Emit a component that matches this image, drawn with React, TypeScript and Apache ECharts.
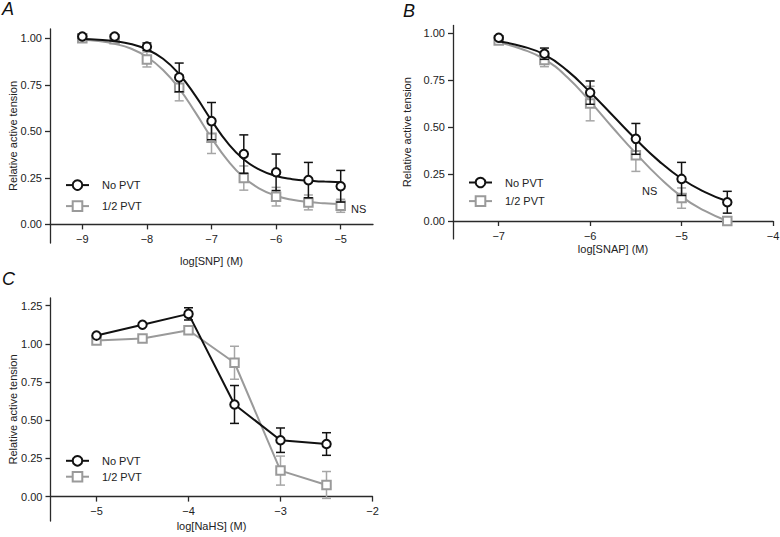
import React, { useEffect, useRef } from 'react';
import * as echarts from 'echarts';

// ---------- Panel A: SNP ----------
const snpX = [-9, -8.5, -8, -7.5, -7, -6.5, -6, -5.5, -5];
const snpNoPvt = [1.01, 1.01, 0.955, 0.79, 0.555, 0.378, 0.28, 0.238, 0.205];
const snpNoPvtErr = [0.01, 0.01, 0.02, 0.077, 0.1, 0.103, 0.098, 0.095, 0.085];
const snpHalfPvt = [1.0, 0.995, 0.886, 0.734, 0.466, 0.249, 0.149, 0.118, 0.1];
const snpHalfPvtErr = [0.01, 0.01, 0.04, 0.07, 0.085, 0.065, 0.05, 0.04, 0.035];
const snpFitX = [-9, -8.75, -8.5, -8.25, -8, -7.75, -7.5, -7.25, -7, -6.75, -6.5, -6.25, -6, -5.75, -5.5, -5.25, -5];
const snpFitNoPvt = [0.996, 0.992, 0.984, 0.969, 0.94, 0.89, 0.807, 0.692, 0.559, 0.438, 0.349, 0.293, 0.26, 0.243, 0.234, 0.23, 0.227];
const snpFitHalfPvt = [0.992, 0.985, 0.97, 0.945, 0.9, 0.83, 0.73, 0.602, 0.465, 0.344, 0.252, 0.191, 0.154, 0.132, 0.12, 0.113, 0.109];

// ---------- Panel B: SNAP ----------
const snapX = [-7, -6.5, -6, -5.5, -5, -4.5];
const snapNoPvt = [0.975, 0.89, 0.683, 0.437, 0.224, 0.1];
const snapNoPvtErr = [0.01, 0.03, 0.062, 0.082, 0.088, 0.058];
const snapHalfPvt = [0.96, 0.856, 0.625, 0.35, 0.122, 0.0];
const snapHalfPvtErr = [0.01, 0.035, 0.092, 0.086, 0.054, 0.01];
const snapFitX = [-7, -6.75, -6.5, -6.25, -6, -5.75, -5.5, -5.25, -5, -4.75, -4.5];
const snapFitNoPvt = [0.955, 0.93, 0.885, 0.8, 0.685, 0.56, 0.435, 0.32, 0.225, 0.155, 0.105];
const snapFitHalfPvt = [0.95, 0.915, 0.86, 0.765, 0.635, 0.495, 0.36, 0.235, 0.13, 0.055, 0.0];

// ---------- Panel C: NaHS ----------
const nahsX = [-5, -4.5, -4, -3.5, -3, -2.5];
const nahsNoPvt = [1.054, 1.125, 1.196, 0.603, 0.369, 0.344];
const nahsNoPvtErr = [0.01, 0.01, 0.04, 0.124, 0.08, 0.074];
const nahsHalfPvt = [1.022, 1.035, 1.089, 0.876, 0.17, 0.076];
const nahsHalfPvtErr = [0.01, 0.01, 0.01, 0.108, 0.095, 0.088];

// ---------- Ticks ----------
const snpXTicks = [-9, -8, -7, -6, -5];
const snapXTicks = [-7, -6, -5, -4];
const nahsXTicks = [-5, -4, -3, -2];
const yTicksAB = [0, 0.25, 0.5, 0.75, 1];
const yTicksC = [0, 0.25, 0.5, 0.75, 1, 1.25];

const SERIES_NO = 'No PVT';
const SERIES_HALF = '1/2 PVT';

const BLACK = '#111111';
const GRAY = '#9a9a9a';
const GRAY_ERR = '#a6a6a6';
const AXIS = '#2a2a2a';
const FONT = '"Liberation Sans", Arial, Helvetica, sans-serif';

const fmtX = (v: number) => (v < 0 ? '\u2212' + Math.abs(v) : String(v));
const fmtY = (v: number) => v.toFixed(2);

function makeXAxis(gridIndex: number, min: number, max: number, ticks: number[], name: string, nameGap: number, offset: number) {
  return {
    type: 'value', gridIndex, min, max, offset,
    axisLine: { show: true, onZero: false, lineStyle: { color: AXIS, width: 1.3 } },
    axisTick: { show: true, length: 5, customValues: ticks, lineStyle: { color: AXIS, width: 1.3 } },
    axisLabel: { customValues: ticks, formatter: fmtX, fontSize: 11, color: '#222', margin: 9, fontFamily: FONT },
    splitLine: { show: false },
    name, nameLocation: 'middle', nameGap, nameMoveOverlap: false,
    nameTextStyle: { fontSize: 11, color: '#222', fontFamily: FONT },
  };
}

function makeYAxis(gridIndex: number, min: number, max: number, ticks: number[], nameGap: number) {
  return {
    type: 'value', gridIndex, min, max,
    axisLine: { show: true, onZero: false, lineStyle: { color: AXIS, width: 1.3 } },
    axisTick: { show: true, length: 5, customValues: ticks, lineStyle: { color: AXIS, width: 1.3 } },
    axisLabel: { customValues: ticks, formatter: fmtY, fontSize: 11, color: '#222', margin: 8, fontFamily: FONT },
    splitLine: { show: false },
    name: 'Relative active tension', nameLocation: 'middle', nameGap, nameMoveOverlap: false,
    nameTextStyle: { fontSize: 11, color: '#222', fontFamily: FONT },
  };
}

const errRender = (color: string) => (params: any, api: any) => {
  const x = api.value(0);
  const lo = api.coord([x, api.value(1)]);
  const hi = api.coord([x, api.value(2)]);
  const w = 4.5;
  const style = { stroke: color, lineWidth: 1.5 };
  return {
    type: 'group',
    children: [
      { type: 'line', shape: { x1: lo[0], y1: lo[1], x2: hi[0], y2: hi[1] }, style },
      { type: 'line', shape: { x1: lo[0] - w, y1: lo[1], x2: lo[0] + w, y2: lo[1] }, style },
      { type: 'line', shape: { x1: hi[0] - w, y1: hi[1], x2: hi[0] + w, y2: hi[1] }, style },
    ],
  };
};

function errSeries(idx: number, xs: number[], ys: number[], es: number[], color: string, z: number) {
  return {
    type: 'custom', xAxisIndex: idx, yAxisIndex: idx, z,
    renderItem: errRender(color),
    encode: { x: 0, y: [1, 2] },
    data: xs.map((x, i) => [x, ys[i] - es[i], ys[i] + es[i]]),
    silent: true,
  };
}

function markerSeries(idx: number, xs: number[], ys: number[], color: string, symbol: string, size: number, z: number) {
  return {
    type: 'scatter', xAxisIndex: idx, yAxisIndex: idx, z,
    symbol, symbolSize: size,
    itemStyle: { color: '#ffffff', borderColor: color, borderWidth: 2, opacity: 1 },
    data: xs.map((x, i) => [x, ys[i]]),
    silent: true,
  };
}

function fitSeries(idx: number, name: string, xs: number[], ys: number[], color: string, symbol: string, z: number) {
  return {
    type: 'line', name, xAxisIndex: idx, yAxisIndex: idx, z,
    smooth: true, showSymbol: false, symbol,
    lineStyle: { color, width: 2 },
    itemStyle: { color },
    data: xs.map((x, i) => [x, ys[i]]),
    silent: true,
  };
}

function legendAt(left: number, top: number, gap: number) {
  return {
    left, top, orient: 'vertical', padding: 0,
    itemWidth: 23, itemHeight: 12, itemGap: gap,
    selectedMode: false,
    data: [SERIES_NO, SERIES_HALF],
    textStyle: { fontSize: 11, color: '#222', fontFamily: FONT, padding: [0, 0, 0, 8] },
  };
}

export default function App() {
  const ref = useRef<HTMLDivElement>(null);
  useEffect(() => {
    if (!ref.current) return;
    const chart = echarts.init(ref.current, null, { renderer: 'svg' });
    const option: any = {
      animation: false,
      backgroundColor: '#ffffff',
      textStyle: { fontFamily: FONT },
      grid: [
        { left: 50, top: 29, width: 323, height: 214, containLabel: false, outerBoundsMode: 'none' },
        { left: 453, top: 25.5, width: 320, height: 213.4, containLabel: false, outerBoundsMode: 'none' },
        { left: 50.5, top: 298, width: 322, height: 223, containLabel: false, outerBoundsMode: 'none' },
      ],
      xAxis: [
        makeXAxis(0, -9.5, -4.5, snpXTicks, 'log[SNP] (M)', 31, -18.6),
        makeXAxis(1, -7.5, -4, snapXTicks, 'log[SNAP] (M)', 22, -17.9),
        makeXAxis(2, -5.5, -2, nahsXTicks, 'log[NaHS] (M)', 24, -24.4),
      ],
      yAxis: [
        makeYAxis(0, -0.1, 1.05, yTicksAB, 32),
        makeYAxis(1, -0.095, 1.04, yTicksAB, 41),
        makeYAxis(2, -0.16, 1.3, yTicksC, 32),
      ],
      legend: [legendAt(65, 179.3, 9.4), legendAt(468, 176.7, 7), legendAt(65, 455, 4.3)],
      series: [
        // Panel A
        errSeries(0, snpX, snpHalfPvt, snpHalfPvtErr, GRAY_ERR, 2),
        fitSeries(0, SERIES_HALF, snpFitX, snpFitHalfPvt, GRAY, 'emptyRect', 2),
        markerSeries(0, snpX, snpHalfPvt, GRAY, 'rect', 8.5, 3),
        errSeries(0, snpX, snpNoPvt, snpNoPvtErr, BLACK, 4),
        fitSeries(0, SERIES_NO, snpFitX, snpFitNoPvt, BLACK, 'emptyCircle', 4),
        markerSeries(0, snpX, snpNoPvt, BLACK, 'circle', 8.5, 5),
        // Panel B
        errSeries(1, snapX, snapHalfPvt, snapHalfPvtErr, GRAY_ERR, 2),
        fitSeries(1, SERIES_HALF, snapFitX, snapFitHalfPvt, GRAY, 'emptyRect', 2),
        markerSeries(1, snapX, snapHalfPvt, GRAY, 'rect', 8.5, 3),
        errSeries(1, snapX, snapNoPvt, snapNoPvtErr, BLACK, 4),
        fitSeries(1, SERIES_NO, snapFitX, snapFitNoPvt, BLACK, 'emptyCircle', 4),
        markerSeries(1, snapX, snapNoPvt, BLACK, 'circle', 8.5, 5),
        // Panel C
        errSeries(2, nahsX, nahsHalfPvt, nahsHalfPvtErr, GRAY_ERR, 2),
        {
          type: 'line', name: SERIES_HALF, xAxisIndex: 2, yAxisIndex: 2, z: 3,
          symbol: 'rect', symbolSize: 8.5, showSymbol: true,
          lineStyle: { color: GRAY, width: 2 },
          itemStyle: { color: '#ffffff', borderColor: GRAY, borderWidth: 2 },
          data: nahsX.map((x, i) => [x, nahsHalfPvt[i]]),
          silent: true,
        },
        errSeries(2, nahsX, nahsNoPvt, nahsNoPvtErr, BLACK, 4),
        {
          type: 'line', name: SERIES_NO, xAxisIndex: 2, yAxisIndex: 2, z: 5,
          symbol: 'circle', symbolSize: 8.5, showSymbol: true,
          lineStyle: { color: BLACK, width: 2 },
          itemStyle: { color: '#ffffff', borderColor: BLACK, borderWidth: 2 },
          data: nahsX.map((x, i) => [x, nahsNoPvt[i]]),
          silent: true,
        },
      ],
      graphic: [
        { type: 'text', left: 2, top: 0, style: { text: 'A', font: `italic 18px ${FONT}`, fill: '#111' } },
        { type: 'text', left: 403, top: 1.5, style: { text: 'B', font: `italic 18px ${FONT}`, fill: '#111' } },
        { type: 'text', left: 2, top: 269.5, style: { text: 'C', font: `italic 18px ${FONT}`, fill: '#111' } },
        { type: 'text', left: 351, top: 203, style: { text: 'NS', font: `11px ${FONT}`, fill: '#222' } },
        { type: 'text', left: 642, top: 185.5, style: { text: 'NS', font: `11px ${FONT}`, fill: '#222' } },
      ],
    };
    chart.setOption(option);
    return () => chart.dispose();
  }, []);
  return (
    <div
      ref={ref}
      style={{ position: 'fixed', left: 0, top: 0, width: 780, height: 537, background: '#fff' }}
    />
  );
}
